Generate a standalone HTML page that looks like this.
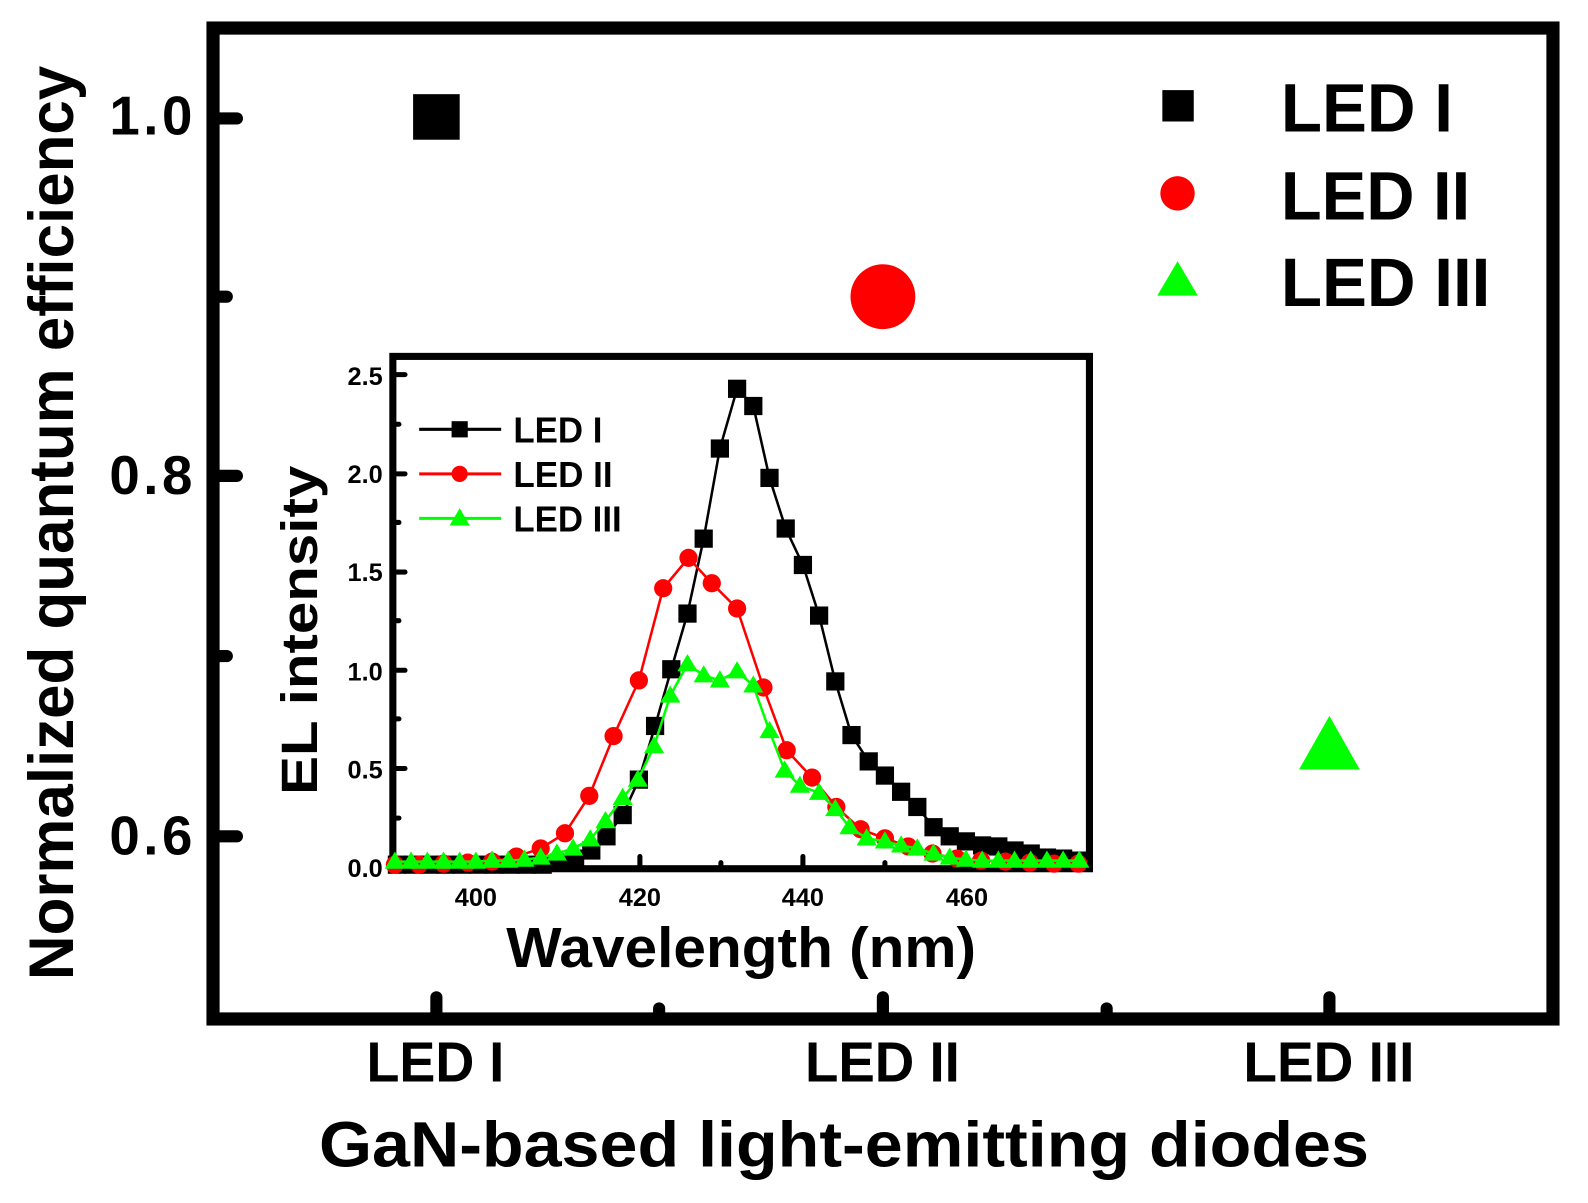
<!DOCTYPE html>
<html><head><meta charset="utf-8"><style>html,body{margin:0;padding:0;background:#fff}svg{display:block}text{font-family:"Liberation Sans",Arial,sans-serif;font-weight:bold;fill:#000}</style></head>
<body>
<svg width="1588" height="1203" viewBox="0 0 1588 1203" xmlns="http://www.w3.org/2000/svg">
<g transform="scale(1.0125)">
<rect x="210.4" y="27.7" width="1323.4" height="978.7" fill="none" stroke="#000" stroke-width="13"/>
<g stroke="#000" stroke-width="12" stroke-linecap="round">
<line x1="213" y1="117" x2="234" y2="117"/><line x1="213" y1="470" x2="234" y2="470"/><line x1="213" y1="826" x2="234" y2="826"/>
<line x1="213" y1="293" x2="224" y2="293"/><line x1="213" y1="648" x2="224" y2="648"/>
<line x1="431" y1="1006" x2="431" y2="985"/><line x1="872" y1="1006" x2="872" y2="985"/><line x1="1313" y1="1006" x2="1313" y2="985"/>
<line x1="651" y1="1006" x2="651" y2="996"/><line x1="1093" y1="1006" x2="1093" y2="996"/>
</g>
<g font-size="54" text-anchor="end">
<text x="190" y="133" textLength="82">1.0</text><text x="190" y="488" textLength="82">0.8</text><text x="190" y="844" textLength="82">0.6</text>
</g>
<text transform="translate(72,968) rotate(-90)" font-size="62" textLength="903" lengthAdjust="spacingAndGlyphs">Normalized quantum efficiency</text>
<g font-size="56">
<text x="362" y="1068" textLength="136" lengthAdjust="spacingAndGlyphs">LED I</text>
<text x="795" y="1068" textLength="153" lengthAdjust="spacingAndGlyphs">LED II</text>
<text x="1228" y="1068" textLength="169" lengthAdjust="spacingAndGlyphs">LED III</text>
</g>
<text x="315" y="1152" font-size="63" textLength="1037" lengthAdjust="spacingAndGlyphs">GaN-based light-emitting diodes</text>
<rect x="408" y="93" width="46" height="45" fill="#000"/>
<circle cx="872" cy="293" r="32" fill="#f00"/>
<polygon points="1313,707 1283,760 1343,760" fill="#0f0"/>
<rect x="1148" y="89" width="31" height="31" fill="#000"/>
<circle cx="1163" cy="191" r="17" fill="#f00"/>
<polygon points="1163,258 1143,292 1183,292" fill="#0f0"/>
<g font-size="68">
<text x="1265" y="130" textLength="170" lengthAdjust="spacingAndGlyphs">LED I</text>
<text x="1265" y="217" textLength="187" lengthAdjust="spacingAndGlyphs">LED II</text>
<text x="1265" y="302" textLength="207" lengthAdjust="spacingAndGlyphs">LED III</text>
</g>
<!-- inset -->
<rect x="388" y="352" width="688" height="506" fill="#fff" stroke="#000" stroke-width="7"/>
<g stroke="#000" stroke-width="5" stroke-linecap="round">
<line x1="388" y1="370" x2="400" y2="370"/><line x1="388" y1="468" x2="400" y2="468"/><line x1="388" y1="565" x2="400" y2="565"/><line x1="388" y1="662" x2="400" y2="662"/><line x1="388" y1="759" x2="400" y2="759"/>
<line x1="388" y1="419" x2="394" y2="419"/><line x1="388" y1="516" x2="394" y2="516"/><line x1="388" y1="613" x2="394" y2="613"/><line x1="388" y1="710" x2="394" y2="710"/><line x1="388" y1="808" x2="394" y2="808"/>
<line x1="470" y1="858" x2="470" y2="846"/><line x1="632" y1="858" x2="632" y2="846"/><line x1="793" y1="858" x2="793" y2="846"/><line x1="955" y1="858" x2="955" y2="846"/>
<line x1="551" y1="858" x2="551" y2="852"/><line x1="712" y1="858" x2="712" y2="852"/><line x1="874" y1="858" x2="874" y2="852"/>
</g>
<g font-size="25" text-anchor="end">
<text x="378" y="380">2.5</text><text x="378" y="477">2.0</text><text x="378" y="574">1.5</text><text x="378" y="672">1.0</text><text x="378" y="769">0.5</text><text x="378" y="866">0.0</text>
</g>
<g font-size="25" text-anchor="middle">
<text x="470" y="895">400</text><text x="632" y="895">420</text><text x="793" y="895">440</text><text x="955" y="895">460</text>
</g>
<text transform="translate(313,785) rotate(-90)" font-size="50" textLength="325" lengthAdjust="spacingAndGlyphs">EL intensity</text>
<text x="500" y="955" font-size="56" textLength="464" lengthAdjust="spacingAndGlyphs">Wavelength (nm)</text>
<!-- black -->
<polyline fill="none" stroke="#000" stroke-width="2.5" points="392,854 408,854 424,854 440,854 456,854 472,854 488,854 504,854 520,854 536,854 552,852 568,848 584,840 599,826 615,805 631,770 647,717 663,661 679,606 695,532 711,443 728,384 744,401 760,472 776,522 793,558 809,608 825,673 841,726 858,752 874,766 890,782 906,797 922,817 938,826 954,831 970,835 986,836 1002,840 1018,843 1034,847 1050,848 1066,850"/>
<g fill="#000">
<rect x="383" y="845" width="18" height="18"/><rect x="399" y="845" width="18" height="18"/><rect x="415" y="845" width="18" height="18"/><rect x="431" y="845" width="18" height="18"/><rect x="447" y="845" width="18" height="18"/><rect x="463" y="845" width="18" height="18"/><rect x="479" y="845" width="18" height="18"/><rect x="495" y="845" width="18" height="18"/><rect x="511" y="845" width="18" height="18"/><rect x="527" y="845" width="18" height="18"/><rect x="543" y="843" width="18" height="18"/><rect x="559" y="839" width="18" height="18"/><rect x="575" y="831" width="18" height="18"/><rect x="590" y="817" width="18" height="18"/><rect x="606" y="796" width="18" height="18"/><rect x="622" y="761" width="18" height="18"/><rect x="638" y="708" width="18" height="18"/><rect x="654" y="652" width="18" height="18"/><rect x="670" y="597" width="18" height="18"/><rect x="686" y="523" width="18" height="18"/><rect x="702" y="434" width="18" height="18"/><rect x="719" y="375" width="18" height="18"/><rect x="735" y="392" width="18" height="18"/><rect x="751" y="463" width="18" height="18"/><rect x="767" y="513" width="18" height="18"/><rect x="784" y="549" width="18" height="18"/><rect x="800" y="599" width="18" height="18"/><rect x="816" y="664" width="18" height="18"/><rect x="832" y="717" width="18" height="18"/><rect x="849" y="743" width="18" height="18"/><rect x="865" y="757" width="18" height="18"/><rect x="881" y="773" width="18" height="18"/><rect x="897" y="788" width="18" height="18"/><rect x="913" y="808" width="18" height="18"/><rect x="929" y="817" width="18" height="18"/><rect x="945" y="822" width="18" height="18"/><rect x="961" y="826" width="18" height="18"/><rect x="977" y="827" width="18" height="18"/><rect x="993" y="831" width="18" height="18"/><rect x="1009" y="834" width="18" height="18"/><rect x="1025" y="838" width="18" height="18"/><rect x="1041" y="839" width="18" height="18"/><rect x="1057" y="841" width="18" height="18"/>
</g>
<!-- red -->
<polyline fill="none" stroke="#f00" stroke-width="2.5" points="390,854 414,854 438,853 462,852 486,851 510,846 534,838 558,823 582,786 606,727 631,672 655,581 680,551 703,576 728,601 754,679 777,741 802,768 826,797 850,819 874,828 897,836 921,843 945,848 969,850 993,851 1017,852 1041,853 1065,853"/>
<g fill="#f00">
<circle cx="390" cy="854" r="9"/><circle cx="414" cy="854" r="9"/><circle cx="438" cy="853" r="9"/><circle cx="462" cy="852" r="9"/><circle cx="486" cy="851" r="9"/><circle cx="510" cy="846" r="9"/><circle cx="534" cy="838" r="9"/><circle cx="558" cy="823" r="9"/><circle cx="582" cy="786" r="9"/><circle cx="606" cy="727" r="9"/><circle cx="631" cy="672" r="9"/><circle cx="655" cy="581" r="9"/><circle cx="680" cy="551" r="9"/><circle cx="703" cy="576" r="9"/><circle cx="728" cy="601" r="9"/><circle cx="754" cy="679" r="9"/><circle cx="777" cy="741" r="9"/><circle cx="802" cy="768" r="9"/><circle cx="826" cy="797" r="9"/><circle cx="850" cy="819" r="9"/><circle cx="874" cy="828" r="9"/><circle cx="897" cy="836" r="9"/><circle cx="921" cy="843" r="9"/><circle cx="945" cy="848" r="9"/><circle cx="969" cy="850" r="9"/><circle cx="993" cy="851" r="9"/><circle cx="1017" cy="852" r="9"/><circle cx="1041" cy="853" r="9"/><circle cx="1065" cy="853" r="9"/>
</g>
<!-- green -->
<polyline fill="none" stroke="#0f0" stroke-width="2.5" points="390,851 406,851 422,851 438,851 454,851 470,851 486,850 502,850 518,849 534,847 550,843 566,838 583,829 598,811 615,788 630,770 646,737 662,687 679,656 695,667 711,672 728,663 744,677 760,722 775,761 790,776 809,783 825,799 839,817 856,828 874,831 890,835 906,838 922,843 938,847 954,849 970,850 986,850 1002,850 1018,850 1034,850 1050,850 1066,850"/>
<g fill="#0f0">
<path d="M390,841l10,17h-20z M406,841l10,17h-20z M422,841l10,17h-20z M438,841l10,17h-20z M454,841l10,17h-20z M470,841l10,17h-20z M486,840l10,17h-20z M502,840l10,17h-20z M518,839l10,17h-20z M534,837l10,17h-20z M550,833l10,17h-20z M566,828l10,17h-20z M583,819l10,17h-20z M598,801l10,17h-20z M615,778l10,17h-20z M630,760l10,17h-20z M646,727l10,17h-20z M662,677l10,17h-20z M679,646l10,17h-20z M695,657l10,17h-20z M711,662l10,17h-20z M728,653l10,17h-20z M744,667l10,17h-20z M760,712l10,17h-20z M775,751l10,17h-20z M790,766l10,17h-20z M809,773l10,17h-20z M825,789l10,17h-20z M839,807l10,17h-20z M856,818l10,17h-20z M874,821l10,17h-20z M890,825l10,17h-20z M906,828l10,17h-20z M922,833l10,17h-20z M938,837l10,17h-20z M954,839l10,17h-20z M970,840l10,17h-20z M986,840l10,17h-20z M1002,840l10,17h-20z M1018,840l10,17h-20z M1034,840l10,17h-20z M1050,840l10,17h-20z M1066,840l10,17h-20z"/>
</g>
<!-- inset legend -->
<line x1="414" y1="424" x2="495" y2="424" stroke="#000" stroke-width="3"/><rect x="446" y="416" width="16" height="16" fill="#000"/>
<line x1="414" y1="468" x2="495" y2="468" stroke="#f00" stroke-width="3"/><circle cx="454" cy="468" r="8" fill="#f00"/>
<line x1="414" y1="512" x2="495" y2="512" stroke="#0f0" stroke-width="3"/><polygon points="454,502 464,519 444,519" fill="#0f0"/>
<g font-size="36">
<text x="507" y="437" textLength="88" lengthAdjust="spacingAndGlyphs">LED I</text>
<text x="507" y="481" textLength="98" lengthAdjust="spacingAndGlyphs">LED II</text>
<text x="507" y="525" textLength="107" lengthAdjust="spacingAndGlyphs">LED III</text>
</g>
</g>
</svg>
</body></html>
